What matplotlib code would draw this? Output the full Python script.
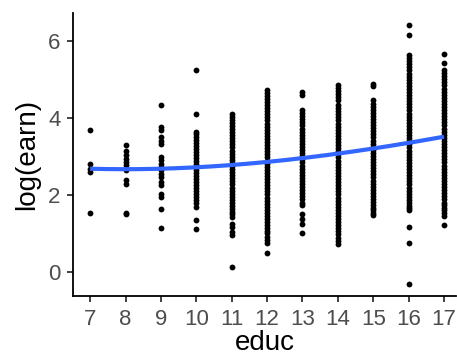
import matplotlib
matplotlib.use("Agg")
import matplotlib.pyplot as plt
import numpy as np

plt.rcParams["font.family"] = ["Liberation Sans", "DejaVu Sans"]

# log earnings by years of education
e07 = [3.69, 2.82, 2.69, 2.59, 1.54]
e08 = [3.30, 3.15, 3.05, 2.95, 2.86, 2.78, 2.65, 2.40, 2.28, 1.55, 1.50]
e09 = [4.34, 3.76, 3.69, 3.50, 3.41, 3.32, 2.99, 2.91, 2.82, 2.74, 2.65, 2.56,
       2.48, 2.35, 2.26, 2.04, 1.96, 1.65, 1.16]
e10 = [5.26, 4.10, 3.65, 3.58, 3.50, 3.43, 3.36, 3.28, 3.20, 3.12, 3.05, 2.97,
       2.90, 2.82, 2.74, 2.66, 2.58, 2.50, 2.43, 2.35, 2.27, 2.19, 2.11, 2.03,
       1.95, 1.87, 1.79, 1.70, 1.35, 1.11]
e11 = [4.12, 4.04, 3.96, 3.88, 3.80, 3.72, 3.64, 3.56, 3.48, 3.40, 3.32, 3.24,
       3.16, 3.08, 3.00, 2.92, 2.84, 2.76, 2.68, 2.60, 2.52, 2.44, 2.36, 2.28,
       2.20, 2.12, 2.04, 1.96, 1.88, 1.80, 1.72, 1.64, 1.56, 1.50, 1.44, 1.26,
       1.18, 1.05, 0.96, 0.13]
e12 = [4.74, 4.66, 4.58, 4.50, 4.42, 4.34, 4.26, 4.18, 4.10, 4.02, 3.94, 3.86,
       3.78, 3.70, 3.62, 3.54, 3.46, 3.38, 3.30, 3.22, 3.14, 3.06, 2.98, 2.90,
       2.82, 2.74, 2.66, 2.58, 2.50, 2.42, 2.34, 2.26, 2.18, 2.10, 2.02, 1.94,
       1.86, 1.78, 1.70, 1.62, 1.54, 1.46, 1.38, 1.30, 1.22, 1.14, 1.07, 1.01,
       0.92, 0.83, 0.75, 0.51]
e13 = [4.68, 4.60, 4.21, 4.13, 4.05, 3.97, 3.89, 3.81, 3.73, 3.65, 3.57, 3.49,
       3.41, 3.33, 3.25, 3.17, 3.09, 3.01, 2.93, 2.85, 2.77, 2.69, 2.61, 2.53,
       2.45, 2.37, 2.29, 2.21, 2.13, 2.05, 1.97, 1.89, 1.81, 1.74, 1.52, 1.39,
       1.26, 1.02]
e14 = [4.86, 4.78, 4.70, 4.62, 4.55, 4.47, 4.34, 4.26, 4.18, 4.10, 4.02, 3.94,
       3.86, 3.78, 3.70, 3.62, 3.54, 3.46, 3.38, 3.30, 3.22, 3.14, 3.06, 2.98,
       2.90, 2.82, 2.74, 2.66, 2.58, 2.50, 2.42, 2.34, 2.26, 2.18, 2.10, 2.02,
       1.94, 1.86, 1.78, 1.70, 1.62, 1.54, 1.46, 1.38, 1.30, 1.22, 1.14, 1.06,
       0.98, 0.90, 0.82, 0.74]
e15 = [4.90, 4.83, 4.48, 4.38, 4.30, 4.22, 4.14, 4.06, 3.98, 3.90, 3.82, 3.74,
       3.66, 3.58, 3.50, 3.42, 3.34, 3.26, 3.18, 3.10, 3.02, 2.94, 2.86, 2.78,
       2.70, 2.62, 2.54, 2.46, 2.38, 2.30, 2.22, 2.14, 2.06, 1.98, 1.90, 1.82,
       1.74, 1.67, 1.61, 1.54, 1.48]
e16 = [6.42, 6.17, 5.64, 5.56, 5.48, 5.40, 5.32, 5.24, 5.16, 5.08, 5.00, 4.92,
       4.84, 4.76, 4.68, 4.60, 4.52, 4.44, 4.36, 4.28, 4.20, 4.12, 4.04, 3.96,
       3.88, 3.80, 3.72, 3.64, 3.56, 3.48, 3.40, 3.32, 3.24, 3.16, 3.08, 3.00,
       2.92, 2.84, 2.76, 2.68, 2.60, 2.52, 2.44, 2.36, 2.28, 2.20, 2.12, 2.04,
       1.96, 1.88, 1.80, 1.72, 1.66, 1.61, 1.18, 0.77, -0.31]
e17 = [5.66, 5.42, 5.25, 5.17, 5.09, 5.01, 4.93, 4.85, 4.77, 4.69, 4.61, 4.53,
       4.45, 4.37, 4.29, 4.21, 4.13, 4.05, 3.97, 3.89, 3.81, 3.73, 3.65, 3.57,
       3.49, 3.41, 3.33, 3.25, 3.17, 3.09, 3.01, 2.93, 2.85, 2.77, 2.69, 2.61,
       2.53, 2.45, 2.37, 2.29, 2.21, 2.13, 2.05, 1.97, 1.89, 1.81, 1.74, 1.67,
       1.61, 1.54, 1.47, 1.22]

educ_levels = [7, 8, 9, 10, 11, 12, 13, 14, 15, 16, 17]
columns = [e07, e08, e09, e10, e11, e12, e13, e14, e15, e16, e17]

# smoothed trend at each education level
smooth_vals = [2.69, 2.67, 2.69, 2.73, 2.78, 2.86, 2.97, 3.08, 3.21, 3.36, 3.52]

xs = np.concatenate([[e] * len(c) for e, c in zip(educ_levels, columns)])
ys = np.concatenate(columns)

fig = plt.figure(figsize=(4.57, 3.62), dpi=100)
ax = fig.add_axes([0.160, 0.182, 0.838, 0.782])

ax.plot(xs, ys, "o", color="black", markersize=4.2, markeredgewidth=0)

# smooth curve through the trend values
coef = np.polyfit(educ_levels, smooth_vals, 3)
xx = np.linspace(7, 17, 200)
ax.plot(xx, np.polyval(coef, xx), color="#3366FF", lw=3.0, solid_capstyle="butt")

ax.set_xlim(6.52, 17.34)
ax.set_ylim(-0.62, 6.73)
ax.set_xticks(educ_levels)
ax.set_yticks([0, 2, 4, 6])

for side in ["top", "right"]:
    ax.spines[side].set_visible(False)
for side in ["left", "bottom"]:
    ax.spines[side].set_linewidth(1.3)
    ax.spines[side].set_color("black")

ax.tick_params(axis="both", colors="#333333", length=4.5, width=1.3,
               labelsize=16, labelcolor="#4D4D4D", pad=4.5)

ax.set_xlabel("educ", fontsize=20, labelpad=0)
ax.set_ylabel("log(earn)", fontsize=20, labelpad=6)

fig.savefig("out.png", dpi=100)
